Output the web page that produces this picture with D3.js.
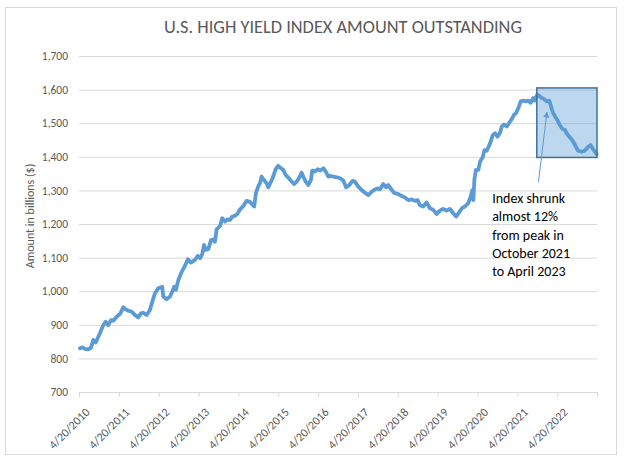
<!DOCTYPE html>
<html><head><meta charset="utf-8">
<script src="https://cdn.jsdelivr.net/npm/d3@7"></script>
<style>
body{margin:0;background:#fff}
svg{display:block}
text{font-family:Carlito,Calibri,Lato,sans-serif}
</style>
</head><body>
<svg id="chart" width="628" height="458"></svg>
<script>
const title = "U.S. HIGH YIELD INDEX AMOUNT OUTSTANDING";
const yAxisTitle = "Amount in billions ($)";

const dates = [
"2010-04-29","2010-05-20","2010-06-14","2010-07-14","2010-08-08","2010-08-29","2010-09-20","2010-10-08","2010-10-29","2010-11-28",
"2010-12-20","2011-01-13","2011-02-07","2011-02-28","2011-03-31","2011-04-30","2011-05-31","2011-06-22","2011-07-16","2011-08-16",
"2011-09-15","2011-10-15","2011-11-09","2011-11-30","2011-12-31","2012-01-30","2012-02-21","2012-03-16","2012-04-16","2012-05-22",
"2012-05-31","2012-07-01","2012-08-01","2012-08-22","2012-09-09","2012-09-25","2012-10-16","2012-11-10","2012-11-25","2012-12-15",
"2013-01-12","2013-02-09","2013-03-18","2013-04-12","2013-05-03","2013-05-24","2013-06-09","2013-06-24","2013-07-18","2013-08-12",
"2013-09-02","2013-09-17","2013-10-03","2013-11-02","2013-11-23","2013-12-18","2014-01-12","2014-02-02","2014-02-23","2014-03-19",
"2014-04-13","2014-05-04","2014-06-03","2014-07-04","2014-08-03","2014-08-19","2014-09-12","2014-09-27","2014-10-18","2014-11-03",
"2014-11-18","2014-12-10","2015-01-04","2015-01-19","2015-02-13","2015-03-05","2015-03-27","2015-04-20","2015-05-15","2015-06-05",
"2015-06-27","2015-07-27","2015-08-21","2015-09-14","2015-10-06","2015-10-27","2015-11-21","2015-12-06","2015-12-28","2016-01-21",
"2016-02-14","2016-02-26","2016-03-22","2016-04-16","2016-05-10","2016-06-07","2016-06-29","2016-07-23","2016-08-07","2016-09-07",
"2016-10-08","2016-11-07","2016-12-07","2017-01-01","2017-01-31","2017-03-03","2017-03-24","2017-04-23","2017-05-24","2017-06-23",
"2017-07-24","2017-08-24","2017-09-23","2017-10-14","2017-11-07","2017-12-08","2018-01-02","2018-01-23","2018-02-14","2018-03-16",
"2018-04-25","2018-05-26","2018-06-25","2018-07-25","2018-08-25","2018-09-24","2018-10-19","2018-11-09","2018-12-09","2019-01-09",
"2019-02-09","2019-03-11","2019-04-11","2019-05-11","2019-06-08","2019-07-12","2019-08-11","2019-09-10","2019-10-07","2019-11-04",
"2019-11-29","2019-12-27","2020-01-26","2020-02-17","2020-03-04","2020-03-13","2020-03-22","2020-04-04","2020-04-28","2020-05-13",
"2020-06-07","2020-06-22","2020-07-14","2020-08-13","2020-09-07","2020-09-28","2020-10-19","2020-11-13","2020-11-28","2020-12-19",
"2021-01-13","2021-02-06","2021-02-27","2021-03-20","2021-04-08","2021-04-29","2021-05-21","2021-06-14","2021-07-08","2021-07-29",
"2021-08-20","2021-09-13","2021-09-28","2021-10-19","2021-11-06","2021-11-28","2021-12-20","2022-01-13","2022-02-06","2022-02-22",
"2022-03-09","2022-03-30","2022-04-20","2022-05-15","2022-06-09","2022-06-30","2022-07-15","2022-08-08","2022-08-30","2022-09-14",
"2022-10-08","2022-10-29","2022-11-29","2022-12-29","2023-01-29","2023-02-20","2023-03-10","2023-03-31","2023-04-16"
];
const values = [
830,833,828,827,832,855,847,860,875,899,
909,899,914,912,924,932,952,946,942,939,
929,922,934,936,929,944,969,994,1009,1013,
984,976,984,999,1013,1004,1033,1053,1063,1075,
1095,1085,1093,1105,1098,1111,1138,1123,1125,1152,
1154,1147,1184,1194,1217,1207,1214,1212,1222,1224,
1231,1243,1253,1269,1266,1260,1252,1291,1311,1321,
1341,1331,1321,1309,1326,1341,1363,1373,1366,1361,
1346,1336,1326,1319,1326,1336,1353,1341,1326,1316,
1331,1359,1356,1363,1359,1366,1356,1341,1343,1341,
1339,1336,1329,1309,1316,1329,1326,1311,1301,1293,
1286,1296,1303,1306,1303,1319,1309,1316,1306,1293,
1289,1283,1279,1271,1273,1269,1271,1256,1252,1264,
1247,1242,1230,1240,1245,1240,1245,1232,1222,1235,
1247,1252,1262,1281,1301,1271,1331,1361,1361,1386,
1399,1420,1418,1440,1465,1470,1460,1472,1490,1496,
1490,1502,1512,1525,1530,1545,1565,1567,1565,1567,
1561,1575,1567,1585,1582,1575,1572,1565,1567,1551,
1534,1521,1510,1494,1482,1480,1470,1460,1452,1445,
1430,1418,1415,1418,1430,1435,1425,1415,1408
];

const yTicks = [700,800,900,1000,1100,1200,1300,1400,1500,1600,1700];
const xTickDates = ["2010-04-20","2011-04-20","2012-04-20","2013-04-20","2014-04-20","2015-04-20","2016-04-20",
  "2017-04-20","2018-04-20","2019-04-20","2020-04-20","2021-04-20","2022-04-20","2023-04-20"];
const xTickLabels = ["4/20/2010","4/20/2011","4/20/2012","4/20/2013","4/20/2014","4/20/2015","4/20/2016",
  "4/20/2017","4/20/2018","4/20/2019","4/20/2020","4/20/2021","4/20/2022",""];

const boxDates = ["2021-10-15","2023-04-20"];
const boxValues = [1605,1398];
const arrowDates = ["2021-10-30","2022-01-16"];
const arrowValues = [1325,1533];
const noteAnchorDate = "2020-09-01";
const noteAnchorValue = 1262;
const noteLines = ["Index shrunk","almost 12%","from peak in","October 2021","to April 2023"];

const parse = d3.utcParse("%Y-%m-%d");
const svg = d3.select("#chart");
const m = {left:79, right:597, top:56, bottom:392};

svg.append("rect").attr("x",5.5).attr("y",7.5).attr("width",611).attr("height",447)
  .attr("fill","#fff").attr("stroke","#d9d9d9").attr("stroke-width",1);

const x = d3.scaleUtc().domain([parse(xTickDates[0]), parse(xTickDates[xTickDates.length-1])]).range([m.left, m.right]);
const y = d3.scaleLinear().domain([700,1700]).range([m.bottom, m.top]);

// title
svg.append("text").attr("x",343).attr("y",33).attr("text-anchor","middle")
  .attr("font-size",18).attr("fill","#595959").attr("textLength",358).attr("lengthAdjust","spacingAndGlyphs")
  .text(title);

// y axis + gridlines
const yAxis = d3.axisLeft(y).tickValues(yTicks).tickFormat(d3.format(",")).tickSize(-(m.right-m.left)).tickPadding(11);
const gy = svg.append("g").attr("transform",`translate(${m.left},0)`).call(yAxis);
gy.select(".domain").remove();
gy.selectAll(".tick line").attr("stroke","#d9d9d9").attr("stroke-width",1);
gy.selectAll(".tick text").attr("fill","#595959").attr("font-size",11.5).style("font-family","Carlito,Calibri,Lato,sans-serif");

// x axis
const xAxis = d3.axisBottom(x).tickValues(xTickDates.map(parse))
  .tickFormat((d,i)=>xTickLabels[i]).tickSize(5).tickSizeOuter(0);
const gx = svg.append("g").attr("transform",`translate(0,${m.bottom})`).call(xAxis);
gx.select(".domain").attr("stroke","#d9d9d9");
gx.selectAll(".tick line").attr("stroke","#d9d9d9");
gx.selectAll(".tick text")
  .attr("fill","#595959").attr("font-size",12).style("font-family","Carlito,Calibri,Lato,sans-serif")
  .attr("text-anchor","end").attr("y",0).attr("dy","0.35em")
  .attr("transform","translate(8,18) rotate(-45)");

// y axis title
svg.append("text").attr("transform","translate(34,216) rotate(-90)").attr("text-anchor","middle")
  .attr("font-size",12).attr("fill","#595959").text(yAxisTitle);

// line
const data = dates.map((d,i)=>({date:parse(d), value:values[i]}));
svg.append("path").datum(data)
  .attr("fill","none").attr("stroke","#5b9bd5").attr("stroke-width",3.8)
  .attr("stroke-linejoin","round").attr("stroke-linecap","round")
  .attr("d", d3.line().x(d=>x(d.date)).y(d=>y(d.value)));

// highlight box
const bx0 = x(parse(boxDates[0])), bx1 = x(parse(boxDates[1]));
const by0 = y(boxValues[0]), by1 = y(boxValues[1]);
svg.append("rect").attr("x",bx0).attr("y",by0).attr("width",bx1-bx0).attr("height",by1-by0)
  .attr("fill","rgba(91,155,213,0.4)").attr("stroke","#41719c").attr("stroke-width",1.5);

// arrow
svg.append("defs").append("marker").attr("id","ah").attr("viewBox","0 0 10 10")
  .attr("refX",9).attr("refY",5).attr("markerWidth",6).attr("markerHeight",6).attr("orient","auto")
  .append("path").attr("d","M0,0 L10,5 L0,10 z").attr("fill","#5b9bd5");
svg.append("line")
  .attr("x1",x(parse(arrowDates[0]))).attr("y1",y(arrowValues[0]))
  .attr("x2",x(parse(arrowDates[1]))).attr("y2",y(arrowValues[1]))
  .attr("stroke","#5b9bd5").attr("stroke-width",1).attr("marker-end","url(#ah)");

// note
const nx = x(parse(noteAnchorDate)), ny = y(noteAnchorValue);
const note = svg.append("text").attr("font-size",14).attr("fill","#000");
noteLines.forEach((t,i)=>note.append("tspan").attr("x",nx).attr("y",ny + i*18.2).text(t));
</script>
</body></html>
